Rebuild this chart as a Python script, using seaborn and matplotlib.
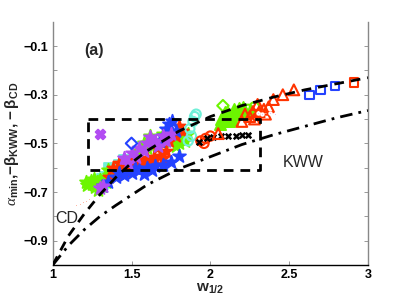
import numpy as np
import pandas as pd
import seaborn as sns
from matplotlib import pyplot as plt

# theory curves
cd_x = [1.0, 1.1, 1.2, 1.3, 1.4, 1.5, 1.6, 1.7, 1.8, 2.0, 2.2, 2.4, 2.6, 2.8, 3.0]
cd_y = [-1.0, -0.88, -0.79, -0.71, -0.64, -0.58, -0.53, -0.49, -0.45, -0.39, -0.345, -0.31, -0.28, -0.255, -0.23]
kww_x = [1.0, 1.05, 1.1, 1.2, 1.3, 1.4, 1.6, 1.8, 2.0, 2.2, 2.4, 2.6, 2.8, 3.0]
kww_y = [-1.0, -0.96, -0.92, -0.855, -0.80, -0.755, -0.67, -0.605, -0.555, -0.505, -0.465, -0.43, -0.395, -0.365]

# box around the data region
box_x = [1.225, 2.315, 2.315, 1.225, 1.225]
box_y = [-0.40, -0.40, -0.61, -0.61, -0.40]

# measured points
green_star_x = [1.22, 1.25, 1.28, 1.30, 1.33, 1.36, 1.27, 1.31, 1.34, 1.24, 1.38, 1.21, 1.26, 1.29, 1.35,
                1.55, 1.58, 1.60, 1.64, 1.68, 1.72, 1.76, 1.80, 1.83, 1.86, 1.62, 1.66, 1.70, 1.78, 1.84]
green_star_y = [-0.67, -0.665, -0.66, -0.65, -0.64, -0.63, -0.68, -0.675, -0.66, -0.655, -0.62, -0.66, -0.645, -0.69, -0.61,
                -0.53, -0.50, -0.52, -0.505, -0.49, -0.48, -0.49, -0.50, -0.47, -0.46, -0.47, -0.51, -0.46, -0.51, -0.49]
green_tri_x = [2.07, 2.10, 2.13, 2.16, 2.19, 2.22, 2.25, 2.12, 2.09, 2.15, 2.18, 2.21, 2.06, 2.08, 2.11, 2.14]
green_tri_y = [-0.40, -0.39, -0.385, -0.38, -0.375, -0.37, -0.365, -0.41, -0.37, -0.36, -0.355, -0.35, -0.42, -0.39, -0.375, -0.40]
green_dia_x = [2.08]
green_dia_y = [-0.345]
green_circ_x = [2.28, 2.24]
green_circ_y = [-0.35, -0.36]

red_star_x = [1.36, 1.40, 1.44, 1.48, 1.52, 1.56, 1.60, 1.64, 1.68, 1.72, 1.42, 1.50, 1.58, 1.66, 1.74, 1.78,
              1.82, 1.80, 1.38, 1.46, 1.54, 1.62, 1.70]
red_star_y = [-0.64, -0.62, -0.60, -0.59, -0.58, -0.57, -0.56, -0.555, -0.55, -0.53, -0.58, -0.56, -0.59, -0.52,
              -0.49, -0.47, -0.45, -0.43, -0.60, -0.615, -0.60, -0.575, -0.56]
red_dot_x = [1.15, 1.17, 1.19, 1.21, 1.23]
red_dot_y = [-0.755, -0.748, -0.742, -0.736, -0.73]
red_circ_x = [1.94, 1.97, 2.00, 1.96]
red_circ_y = [-0.49, -0.48, -0.47, -0.50]
red_tri_x = [2.05, 2.20, 2.25, 2.28, 2.31, 2.34, 2.37, 2.40, 2.46, 2.53, 2.22, 2.30, 2.27, 2.35]
red_tri_y = [-0.46, -0.41, -0.39, -0.40, -0.37, -0.36, -0.35, -0.32, -0.30, -0.28, -0.38, -0.34, -0.37, -0.38]
red_sq_x = [2.91]
red_sq_y = [-0.25]

blue_star_x = [1.35, 1.40, 1.45, 1.50, 1.55, 1.60, 1.65, 1.70, 1.75, 1.80, 1.42, 1.52, 1.58, 1.63,
               1.68, 1.70, 1.72, 1.74, 1.76, 1.78, 1.32]
blue_star_y = [-0.66, -0.64, -0.63, -0.62, -0.61, -0.60, -0.595, -0.59, -0.575, -0.55, -0.62, -0.60, -0.625, -0.61,
               -0.49, -0.47, -0.44, -0.42, -0.41, -0.45, -0.675]
blue_dia_x = [1.50]
blue_dia_y = [-0.50]
blue_sq_x = [2.63, 2.70, 2.79]
blue_sq_y = [-0.30, -0.28, -0.265]

purple_star_x = [1.45, 1.50, 1.55, 1.60, 1.65, 1.70, 1.75, 1.58, 1.62, 1.53, 1.30, 1.32, 1.48, 1.67, 1.72]
purple_star_y = [-0.56, -0.54, -0.52, -0.50, -0.49, -0.47, -0.46, -0.53, -0.475, -0.555, -0.685, -0.675,
                 -0.58, -0.51, -0.49]
purple_x_x = [1.30]
purple_x_y = [-0.46]
purple_dot_x = [2.30, 2.33, 2.38, 2.41]
purple_dot_y = [-0.375, -0.38, -0.375, -0.38]
purple_sq_x = [1.46]
purple_sq_y = [-0.575]

cyan_sq_x = [1.30, 1.32, 1.34, 1.37, 1.39, 1.42, 1.45, 1.33, 1.36, 1.40, 1.29, 1.31]
cyan_sq_y = [-0.68, -0.665, -0.65, -0.63, -0.61, -0.59, -0.57, -0.64, -0.60, -0.625, -0.67, -0.645]
cyan_circ_x = [1.87, 1.89, 1.90, 1.88, 1.86, 1.91]
cyan_circ_y = [-0.44, -0.41, -0.39, -0.47, -0.49, -0.38]

black_x_x = [1.93, 1.98, 2.02, 2.07, 2.11, 2.16, 2.20, 2.24]
black_x_y = [-0.495, -0.48, -0.475, -0.47, -0.47, -0.47, -0.465, -0.465]

GREEN = "#6cf500"
RED = "#ff3300"
BLUE = "#2442ff"
PURPLE = "#b24cf2"
CYAN = "#70f0d8"

sns.set_theme(style="white")
plt.rcParams['font.family'] = ['Liberation Sans', 'DejaVu Sans']
plt.rcParams['mathtext.fontset'] = 'custom'
plt.rcParams['mathtext.rm'] = 'Liberation Sans'
plt.rcParams['mathtext.bf'] = 'Liberation Sans:bold'
plt.rcParams['mathtext.it'] = 'Liberation Serif:italic'

fig = plt.figure(figsize=(4.07, 3.06), dpi=100)
ax = fig.add_axes([0.1295, 0.134, 0.7745, 0.795])


def pts(xs, ys, color, marker, s=22, filled=False, lw=1.3):
    d = pd.DataFrame({"x": xs, "y": ys})
    if marker in ("x", "+", "."):
        sns.scatterplot(data=d, x="x", y="y", color=color, marker=marker, s=s,
                        linewidth=lw, ax=ax, zorder=3)
    elif filled:
        sns.scatterplot(data=d, x="x", y="y", color=color, marker=marker, s=s,
                        edgecolor=color, linewidth=lw, ax=ax, zorder=3)
    else:
        sns.scatterplot(data=d, x="x", y="y", marker=marker, s=s, facecolor="none",
                        edgecolor=color, linewidth=lw, ax=ax, zorder=3)


pts(cyan_sq_x, cyan_sq_y, CYAN, "s", s=60, filled=True)
pts(green_star_x, green_star_y, GREEN, "*", s=95, filled=True)
pts(red_star_x, red_star_y, RED, "*", s=85, filled=True)
pts(blue_star_x, blue_star_y, BLUE, "*", s=95, filled=True)
pts(purple_star_x, purple_star_y, PURPLE, "*", s=95, filled=True)
pts(purple_sq_x, purple_sq_y, PURPLE, "s", s=16)
pts(blue_dia_x, blue_dia_y, BLUE, "D", s=34, lw=1.5)
pts(purple_x_x, purple_x_y, PURPLE, "X", s=50, filled=True)
pts(cyan_circ_x, cyan_circ_y, CYAN, "o", s=45, lw=1.5)
pts(red_circ_x, red_circ_y, RED, "o", s=45, lw=1.5)
pts(black_x_x, black_x_y, "black", "x", s=16, lw=1.8)
pts(green_tri_x, green_tri_y, GREEN, "^", s=65, filled=True)
pts(green_dia_x, green_dia_y, GREEN, "D", s=34, lw=1.5)
pts(green_circ_x, green_circ_y, GREEN, "o", s=45, lw=1.5)
pts(red_tri_x, red_tri_y, RED, "^", s=60, lw=1.5)
pts(red_dot_x, red_dot_y, RED, ".", s=14)
pts(purple_dot_x, purple_dot_y, PURPLE, ".", s=14)
pts(blue_sq_x, blue_sq_y, BLUE, "s", s=36, lw=1.5)
pts(red_sq_x, red_sq_y, RED, "s", s=36, lw=1.5)

ax.plot(cd_x, cd_y, color="black", lw=2.0, dashes=(3.5, 2.5), zorder=4)
ax.plot(kww_x, kww_y, color="black", lw=2.0, dashes=(4.5, 2.2, 1.0, 2.2), zorder=4)
ax.plot(box_x, box_y, color="black", lw=2.0, dashes=(3.5, 2.5), zorder=4)

ax.text(1.26, -0.118, "(a)", fontsize=11.5, fontweight="bold", ha="center", va="center")
ax.text(1.089, -0.808, "CD", fontsize=11.5, ha="center", va="center")
ax.text(2.59, -0.58, "KWW", fontsize=11.5, ha="center", va="center")

ax.set_xlim(1, 3)
ax.set_ylim(-1, 0)
ax.set_xticks([1, 1.5, 2, 2.5, 3])
ax.set_xticklabels(["1", "1.5", "2", "2.5", "3"], fontweight="bold", fontsize=9)
yt = np.round(np.arange(-1.0, -0.05, 0.1), 1)
ax.set_yticks(yt)
ax.set_yticklabels(["" if round(v * 10) % 2 == 0 else "\u22120.%d" % round(-v * 10) for v in yt],
                   fontweight="bold", fontsize=9)
ax.tick_params(axis="both", direction="in", length=3, width=0.6, colors="#888888",
               labelcolor="black", pad=3, left=True, right=True, bottom=True, top=False)
ax.set_xlabel(r"$\mathbf{w_{1/2}}$", fontsize=11, labelpad=0)
ax.set_ylabel(r"$\alpha_{\mathbf{min}}\mathbf{,}\mathbf{-\beta_{KWW},-\beta_{CD}}$", fontsize=11, labelpad=2)

for side in ["left", "right"]:
    ax.spines[side].set_color("#888888")
    ax.spines[side].set_linewidth(1.0)
ax.spines["bottom"].set_color("black")
ax.spines["bottom"].set_linewidth(1.0)
ax.spines["top"].set_visible(False)

fig.savefig("out.png", dpi=100)
